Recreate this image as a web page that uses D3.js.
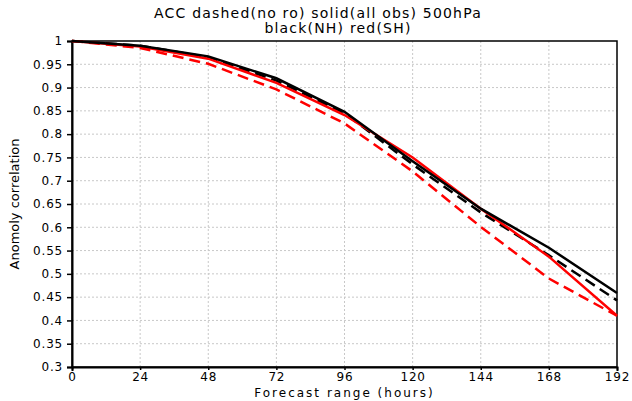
<!DOCTYPE html>
<html lang="en">
<head>
<meta charset="UTF-8">
<title>ACC 500hPa</title>
<script src="https://d3js.org/d3.v7.min.js"></script>
<style>
  body { margin: 0; background: #fff; }
  text { font-family: "DejaVu Sans", sans-serif; fill: #000; }
</style>
</head>
<body>
<svg id="chart"></svg>
<script>
// forecast hours
const hours = [0, 24, 48, 72, 96, 120, 144, 168, 192];
// anomaly correlation values
const nhAll  = [1.0, 0.990, 0.967, 0.920, 0.848, 0.742, 0.640, 0.556, 0.459];
const nhNoRo = [1.0, 0.990, 0.965, 0.915, 0.845, 0.735, 0.632, 0.540, 0.443];
const shAll  = [1.0, 0.988, 0.962, 0.910, 0.841, 0.750, 0.640, 0.537, 0.410];
const shNoRo = [1.0, 0.985, 0.951, 0.896, 0.823, 0.720, 0.601, 0.490, 0.410];
const xTicks = [0, 24, 48, 72, 96, 120, 144, 168, 192];
const yTicks = [0.3, 0.35, 0.4, 0.45, 0.5, 0.55, 0.6, 0.65, 0.7, 0.75, 0.8, 0.85, 0.9, 0.95, 1];

const width = 632, height = 401;
const margin = { top: 41, right: 15, bottom: 34, left: 72 };
const w = width - margin.left - margin.right;
const h = height - margin.top - margin.bottom;

const svg = d3.select("#chart").attr("width", width).attr("height", height);

const x = d3.scaleLinear().domain([0, 192]).range([0, w]);
const y = d3.scaleLinear().domain([0.3, 1]).range([h, 0]);

const g = svg.append("g").attr("transform", `translate(${margin.left},${margin.top})`);

// grid
g.append("g").selectAll("line").data(xTicks.slice(1, -1)).join("line")
  .attr("x1", d => x(d)).attr("x2", d => x(d)).attr("y1", 0).attr("y2", h)
  .attr("stroke", "#c8c8c8").attr("stroke-dasharray", "2,2");
g.append("g").selectAll("line").data(yTicks.slice(1, -1)).join("line")
  .attr("y1", d => y(d)).attr("y2", d => y(d)).attr("x1", 0).attr("x2", w)
  .attr("stroke", "#c8c8c8").attr("stroke-dasharray", "2,2");

// frame
g.append("rect").attr("width", w).attr("height", h)
  .attr("fill", "none").attr("stroke", "#000").attr("stroke-width", 1.5);

// axes
const xAxis = g.append("g").attr("transform", `translate(0,${h})`)
  .call(d3.axisBottom(x).tickValues(xTicks).tickFormat(d3.format("d")).tickSize(4));
const yAxis = g.append("g")
  .call(d3.axisLeft(y).tickValues(yTicks).tickFormat(d => d3.format("")(+d.toFixed(2))).tickSize(5));
[xAxis, yAxis].forEach(a => {
  a.select(".domain").attr("stroke-width", 2);
  a.selectAll("text").style("font-size", "12px").style("letter-spacing", "0.8px").attr("fill", "#000");
});
xAxis.selectAll(".tick line").attr("y2", 3).attr("stroke-width", 1.5);
xAxis.selectAll("text").attr("y", 6).attr("dy", "0.68em");
yAxis.selectAll(".tick line").attr("stroke-width", 1.5);
yAxis.selectAll("text").attr("x", -9);

// lines
const line = vals => d3.line().x((d, i) => x(hours[i])).y(d => y(d))(vals);
const series = [
  { v: shNoRo, c: "#ff0000", dash: "11,6" },
  { v: nhNoRo, c: "#000000", dash: "11,6" },
  { v: shAll,  c: "#ff0000", dash: null },
  { v: nhAll,  c: "#000000", dash: null }
];
series.forEach(s => {
  g.append("path").attr("d", line(s.v)).attr("fill", "none")
    .attr("stroke", s.c).attr("stroke-width", 2.5)
    .attr("stroke-dasharray", s.dash);
});

// titles
svg.append("text").attr("x", 318).attr("y", 18).attr("text-anchor", "middle")
  .style("font-size", "14px").style("letter-spacing", "1.2px")
  .text("ACC dashed(no ro) solid(all obs) 500hPa");
svg.append("text").attr("x", 338).attr("y", 33).attr("text-anchor", "middle")
  .style("font-size", "14px").style("letter-spacing", "1.2px")
  .text("black(NH) red(SH)");
svg.append("text").attr("x", margin.left + w / 2).attr("y", 397).attr("text-anchor", "middle")
  .style("font-size", "12px").style("letter-spacing", "2px").text("Forecast range (hours)");
svg.append("text").attr("transform", `translate(19,${margin.top + h / 2}) rotate(-90)`)
  .attr("text-anchor", "middle").style("font-size", "13px").text("Anomoly correlation");
</script>
</body>
</html>
